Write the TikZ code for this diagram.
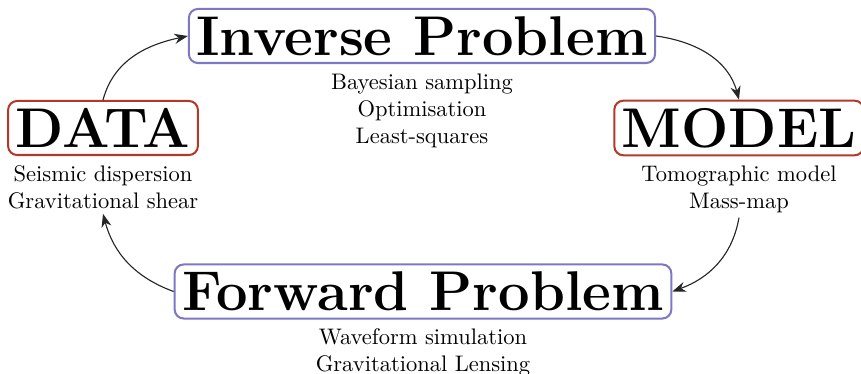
\documentclass[tikz,border=0pt]{standalone}
\usetikzlibrary{arrows.meta,positioning}
\definecolor{boxblue}{RGB}{125,120,195}
\definecolor{boxred}{RGB}{180,55,40}
\begin{document}
\begin{tikzpicture}[x=0.4444pt,y=-0.4444pt,
  titlebox/.style={draw, rounded corners=4pt, line width=0.9pt, inner sep=3.3pt, font=\Huge\bfseries},
  sub/.style={align=center, font=\normalsize, inner sep=2pt},
  link/.style={-{Stealth[length=6pt,width=4.5pt]}, line width=0.5pt, black!85}]
\useasboundingbox (0,0) rectangle (861,374);
\node[titlebox, draw=boxblue] (inv) at (422,36) {Inverse Problem};
\node[titlebox, draw=boxred] (data) at (103,128) {DATA};
\node[titlebox, draw=boxred] (model) at (739,128) {MODEL};
\node[titlebox, draw=boxblue] (fwd) at (423,291.5) {Forward Problem};
\node[sub, below=2pt of inv] (invtxt) {Bayesian sampling\\Optimisation\\Least-squares};
\node[sub, below=2pt of data] (datatxt) {Seismic dispersion\\Gravitational shear};
\node[sub, below=2pt of model] (modeltxt) {Tomographic model\\Mass-map};
\node[sub, below=2pt of fwd] (fwdtxt) {Waveform simulation\\Gravitational Lensing};
\draw[link] (data.north) to[out=75,in=192] (inv.west);
\draw[link] (inv.east) to[out=-8,in=105] (model.north);
\draw[link] (modeltxt.south) to[out=-100,in=20] (fwd.east);
\draw[link] (fwd.west) to[out=160,in=-75] (datatxt.south);
\end{tikzpicture}
\end{document}
